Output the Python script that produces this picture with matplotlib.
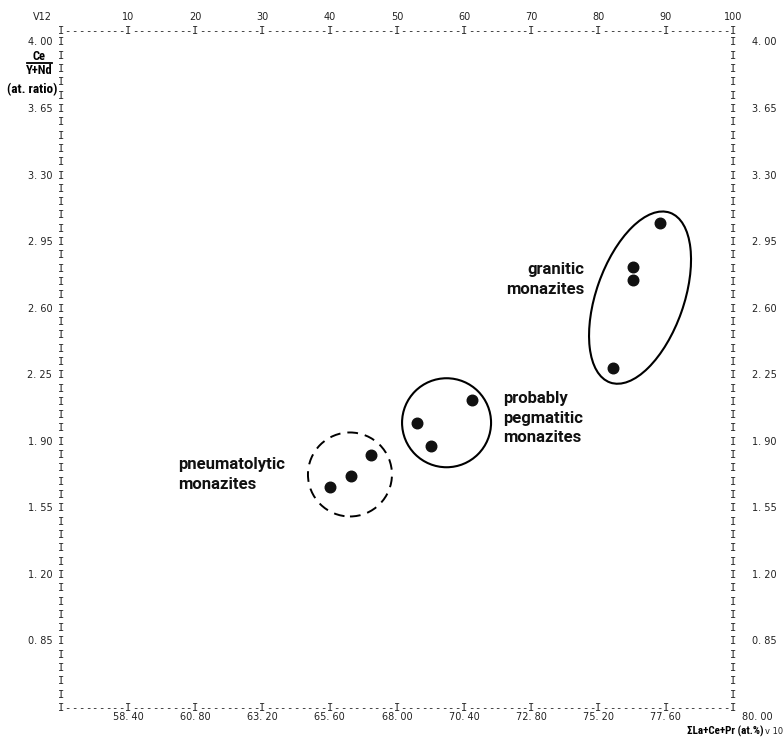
import matplotlib
matplotlib.use("Agg")
import matplotlib.pyplot as plt
import matplotlib.transforms as mtransforms
from matplotlib.patches import Ellipse
import numpy as np

# ---- data -------------------------------------------------------------
pneu_x = [65.61, 66.35, 67.07]
pneu_y = [1.66, 1.72, 1.83]
pegm_x = [68.70, 69.21, 70.67]
pegm_y = [2.00, 1.88, 2.12]
gran_x = [75.73, 76.42, 76.42, 77.39]
gran_y = [2.29, 2.75, 2.82, 3.05]

x_ticks = [58.40, 60.80, 63.20, 65.60, 68.00, 70.40, 72.80, 75.20, 77.60, 80.00]
x_tick_labels = ["58. 40", "60. 80", "63. 20", "65. 60", "68. 00",
                 "70. 40", "72. 80", "75. 20", "77. 60", "80. 00"]
top_ticks = [10, 20, 30, 40, 50, 60, 70, 80, 90, 100]
y_ticks = [4.00, 3.65, 3.30, 2.95, 2.60, 2.25, 1.90, 1.55, 1.20, 0.85]
y_tick_labels = ["4. 00", "3. 65", "3. 30", "2. 95", "2. 60",
                 "2. 25", "1. 90", "1. 55", "1. 20", "0. 85"]

X_MIN, X_MAX = 56.0, 80.0
Y_MIN, Y_MAX = 0.50, 4.06

NARROW = ["Roboto Condensed", "Roboto", "DejaVu Sans"]
NARROW_KW = dict(family=NARROW, fontweight="bold")
LABEL_KW = dict(family=["Roboto", "DejaVu Sans"], fontweight="bold")
MONO = ["DejaVu Sans Mono"]
PLOT_FONT = ["DejaVu Sans"]

fig = plt.figure(figsize=(7.84, 7.39), dpi=100)
ax = fig.add_axes([61 / 784, 1 - 708 / 739, 672 / 784, 677 / 739])
ax.set_xlim(X_MIN, X_MAX)
ax.set_ylim(Y_MIN, Y_MAX)
ax.set_axis_off()

# ---- line-printer frame -------------------------------------------------
n_cols = 100
for i in range(n_cols + 1):
    xv = X_MIN + i * (X_MAX - X_MIN) / n_cols
    ch = "I" if i % 10 == 0 else "-"
    for yv in (Y_MIN, Y_MAX):
        ax.text(xv, yv, ch, family=MONO, fontsize=7.6, ha="center",
                va="center", color="#222222", clip_on=False)

rows = np.arange(Y_MIN + 0.07, 4.0001 + 0.07, 0.07)
for yv in rows:
    if yv >= Y_MAX - 0.02:
        continue
    for xv in (X_MIN, X_MAX):
        ax.text(xv, yv, "I", family=MONO, fontsize=7.6, ha="center",
                va="center", color="#222222", clip_on=False)

# ---- tick labels ---------------------------------------------------------
xtr = ax.get_xaxis_transform()
ytr = ax.get_yaxis_transform()
for xv, lab in zip(x_ticks, x_tick_labels):
    dx = 24 / 672 * (X_MAX - X_MIN) if xv == X_MAX else 0.0
    ax.text(xv + dx, -0.014, lab, transform=xtr, family=PLOT_FONT,
            fontsize=7, ha="center", va="center", color="#222222")
for t in top_ticks:
    xv = X_MIN + t / 100 * (X_MAX - X_MIN)
    ax.text(xv, 1.021, str(t), transform=xtr, family=PLOT_FONT,
            fontsize=7, ha="center", va="center", color="#222222")
for yv, lab in zip(y_ticks, y_tick_labels):
    ax.text(-0.013, yv, lab, transform=ytr, family=PLOT_FONT,
            fontsize=7, ha="right", va="center", color="#222222")
    ax.text(1.028, yv, lab, transform=ytr, family=PLOT_FONT,
            fontsize=7, ha="left", va="center", color="#222222")

ax.text(-0.028, 1.021, "V12", transform=ax.transAxes, family=PLOT_FONT,
        fontsize=7, ha="center", va="center", color="#222222")

# ---- axis titles ----------------------------------------------------------
fig.text(39 / 784, 1 - 56 / 739, "Ce", fontsize=9, ha="center",
         va="center", **NARROW_KW)
fig.add_artist(plt.Line2D([27 / 784, 52 / 784], [1 - 63 / 739, 1 - 63 / 739],
                          color="black", lw=1.3))
fig.text(39.5 / 784, 1 - 71 / 739, "Y+Nd", fontsize=9, ha="center",
         va="center", **NARROW_KW)
fig.text(32 / 784, 1 - 90 / 739, "(at. ratio)", fontsize=9.5, ha="center",
         va="center", **NARROW_KW)

fig.text(764 / 784, 1 - 731 / 739, "\u03a3La+Ce+Pr (at.%)", fontsize=8,
         ha="right", va="center", **NARROW_KW)
fig.text(783 / 784, 1 - 731 / 739, "v 10", family=PLOT_FONT,
         fontsize=6, ha="right", va="center", color="#222222")

# ---- data points -------------------------------------------------------
for xs, ys in ((pneu_x, pneu_y), (pegm_x, pegm_y), (gran_x, gran_y)):
    ax.plot(xs, ys, "o", color="#111111", markersize=7.6, zorder=3)

# ---- group outlines (sizes in inches, centred on data positions) -------
def outline(cx, cy, w, h, angle, **kw):
    trans = fig.dpi_scale_trans + mtransforms.ScaledTranslation(cx, cy, ax.transData)
    e = Ellipse((0, 0), w, h, angle=angle, transform=trans, fill=False,
                color="black", **kw)
    fig.add_artist(e)

outline(66.32, 1.728, 0.84, 0.84, 0, lw=1.4, linestyle=(0, (5.5, 3.6)))
outline(69.77, 2.000, 0.89, 0.89, 0, lw=1.5)
outline(76.68, 2.658, 0.876, 1.80, -19.4, lw=1.5)

# ---- group labels -------------------------------------------------------
lab_kw = dict(fontsize=12, va="center", linespacing=1.4, color="#111111",
              **LABEL_KW)
ax.text(74.68, 2.755, "granitic\nmonazites", ha="right", multialignment="right", **lab_kw)
ax.text(71.79, 2.024, "probably\npegmatitic\nmonazites", ha="left", **lab_kw)
ax.text(60.18, 1.728, "pneumatolytic\nmonazites", ha="left", **lab_kw)

fig.savefig("out.png", dpi=100, facecolor="white")
